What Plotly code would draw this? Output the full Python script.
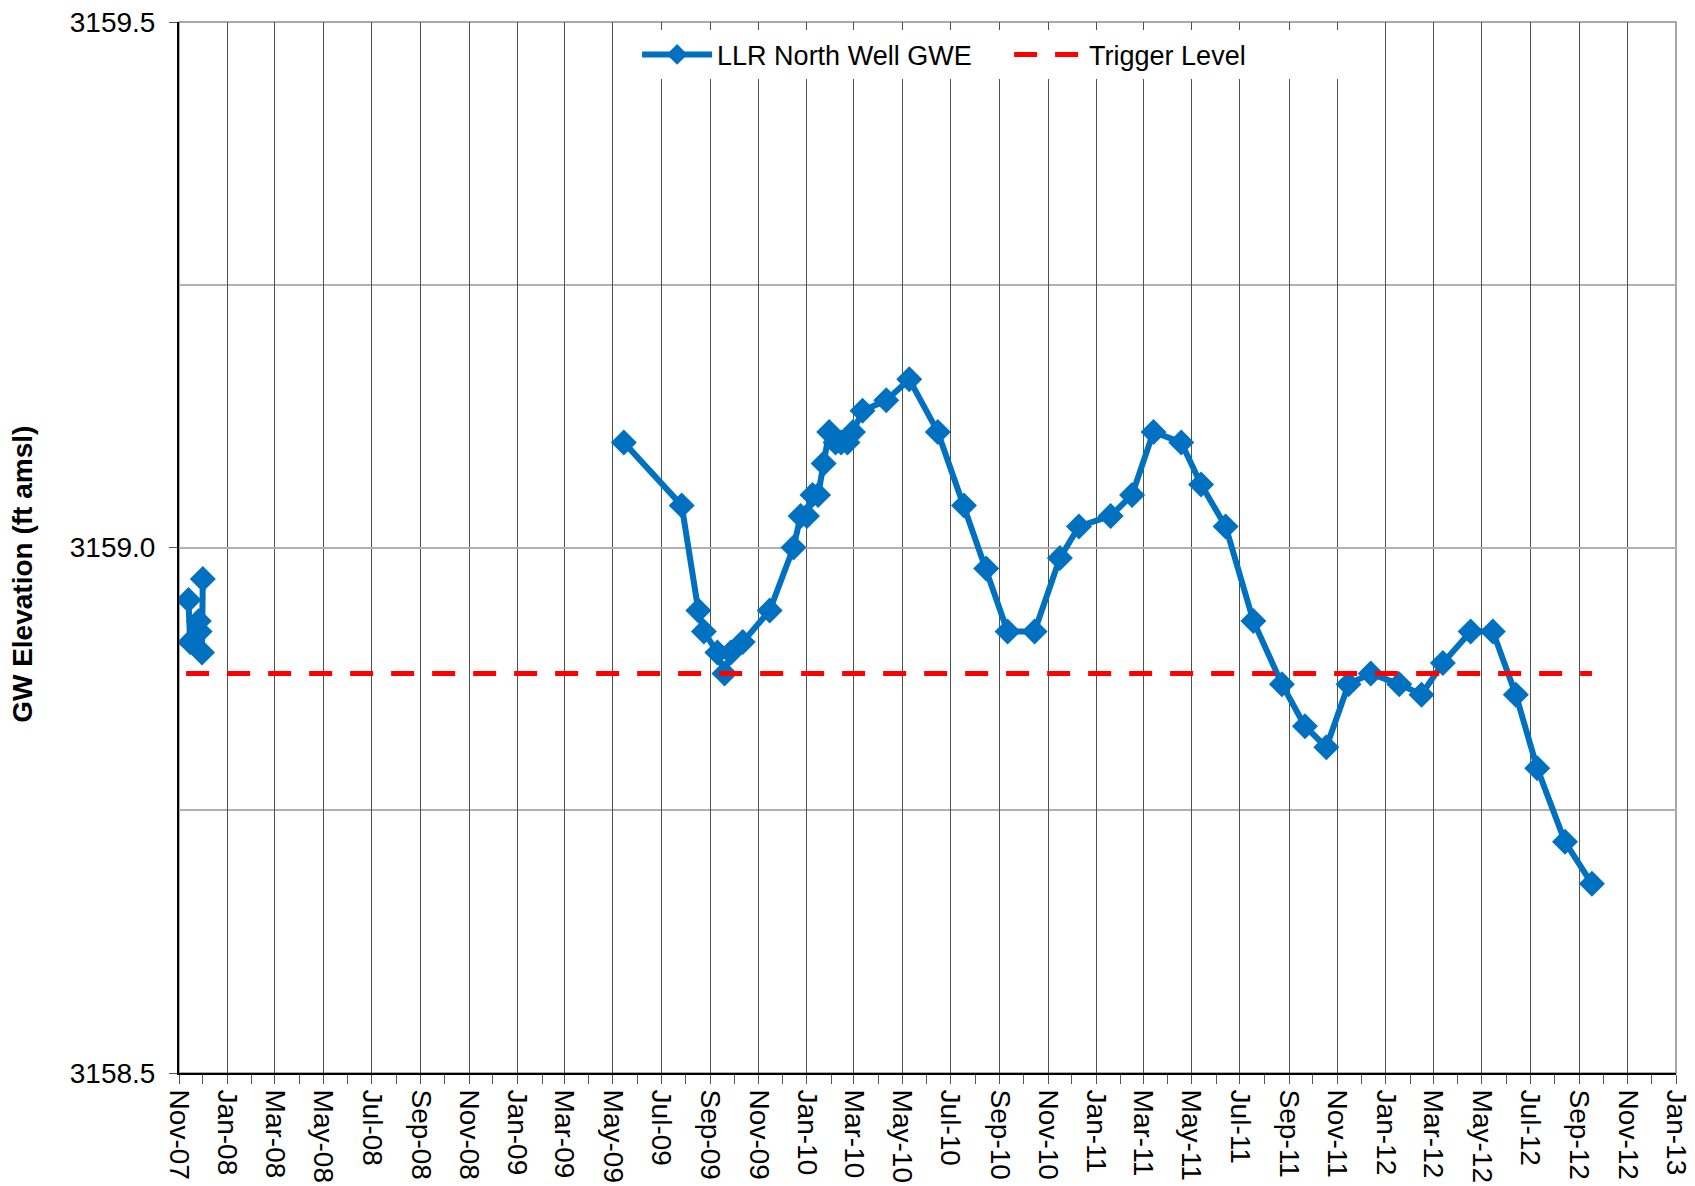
import plotly.graph_objects as go

# ---- data ----
gwe_dates = [
    "2007-11-13", "2007-11-15", "2007-11-26", "2007-11-27", "2007-11-30", "2007-12-01",
    None,
    "2009-05-15", "2009-07-27", "2009-08-17", "2009-08-24", "2009-09-10", "2009-09-19",
    "2009-09-27", "2009-10-12", "2009-11-15", "2009-12-15", "2009-12-24", "2010-01-01",
    "2010-01-08", "2010-01-15", "2010-01-22", "2010-01-29", "2010-02-06", "2010-02-13",
    "2010-02-21", "2010-02-28", "2010-03-12", "2010-04-11", "2010-05-10", "2010-06-15",
    "2010-07-18", "2010-08-15", "2010-09-11", "2010-10-15", "2010-11-16", "2010-12-10",
    "2011-01-19", "2011-02-15", "2011-03-14", "2011-04-18", "2011-05-13", "2011-06-13",
    "2011-07-18", "2011-08-23", "2011-09-21", "2011-10-18", "2011-11-15", "2011-12-13",
    "2012-01-18", "2012-02-15", "2012-03-13", "2012-04-17", "2012-05-15", "2012-06-13",
    "2012-07-10", "2012-08-14", "2012-09-17",
]
gwe_values = [
    3158.95, 3158.91, 3158.93, 3158.92, 3158.90, 3158.97,
    None,
    3159.10, 3159.04, 3158.94, 3158.92, 3158.90, 3158.88,
    3158.90, 3158.91, 3158.94, 3159.00, 3159.03, 3159.03,
    3159.05, 3159.05, 3159.08, 3159.11, 3159.10, 3159.10,
    3159.10, 3159.11, 3159.13, 3159.14, 3159.16, 3159.11,
    3159.04, 3158.98, 3158.92, 3158.92, 3158.99, 3159.02,
    3159.03, 3159.05, 3159.11, 3159.10, 3159.06, 3159.02,
    3158.93, 3158.87, 3158.83, 3158.81, 3158.87, 3158.88,
    3158.87, 3158.86, 3158.89, 3158.92, 3158.92, 3158.86,
    3158.79, 3158.72, 3158.68,
]
trigger_dates = ["2007-11-10", "2012-09-17"]
trigger_values = [3158.88, 3158.88]

x_range = ["2007-11-01", "2013-01-01"]
y_range = [3158.5, 3159.5]
y_title = "GW Elevation (ft amsl)"

FONT = "Liberation Sans, Arial, sans-serif"

fig = go.Figure()
fig.add_trace(go.Scatter(
    x=gwe_dates, y=gwe_values, name="LLR North Well GWE",
    mode="lines+markers", connectgaps=False,
    line=dict(color="#0070C0", width=6),
    marker=dict(symbol="diamond", size=20, color="#0070C0"),
))
fig.add_trace(go.Scatter(
    x=trigger_dates, y=trigger_values, name="Trigger Level",
    mode="lines",
    line=dict(color="#FF0000", width=5, dash="23px,18px"),
))

# gray frame on top/right
fig.add_shape(type="rect", xref="paper", yref="paper", x0=0, y0=0, x1=1, y1=1,
              line=dict(color="#8c8c8c", width=1.5), layer="below")

# y-axis title as annotation (placed like the reference)
fig.add_annotation(
    text="<b>" + y_title + "</b>", textangle=-90,
    xref="paper", yref="paper", x=-0.1042, y=0.474,
    xanchor="center", yanchor="middle", showarrow=False,
    font=dict(size=28, family=FONT, color="black"),
)

fig.update_layout(
    width=1695, height=1186,
    margin=dict(l=171, r=27, t=14, b=121, autoexpand=False),
    plot_bgcolor="white", paper_bgcolor="white",
    font=dict(family=FONT, color="black", size=28),
    showlegend=True,
    legend=dict(
        orientation="h", x=0.306, xanchor="left", y=0.992, yanchor="top",
        bgcolor="white", font=dict(size=27, family=FONT),
        itemwidth=70, entrywidth=287, tracegroupgap=0,
    ),
    xaxis=dict(
        type="date", range=x_range, automargin=False,
        tick0="2007-11-01", dtick="M2", tickformat="%b-%y", tickangle=90,
        showgrid=True, gridcolor="#505050", gridwidth=1,
        ticks="outside", ticklen=9, tickcolor="#555555",
        minor=dict(dtick="M1", ticks="outside", ticklen=9, tickcolor="#555555", showgrid=False),
        showline=True, linecolor="black", linewidth=2,
        tickfont=dict(size=28, family=FONT),
        ticklabeloverflow="allow",
        zeroline=False,
    ),
    yaxis=dict(
        range=y_range, dtick=0.5, tickformat=".1f", automargin=False,
        showgrid=True, gridcolor="#b0b0b0", gridwidth=1.5,
        minor=dict(dtick=0.25, showgrid=True, gridcolor="#b0b0b0", gridwidth=1.5, ticks=""),
        ticks="outside", ticklen=8, tickcolor="#555555",
        ticklabelstandoff=8, ticklabeloverflow="allow",
        showline=True, linecolor="black", linewidth=2,
        tickfont=dict(size=28, family=FONT),
        zeroline=False,
    ),
)

fig.write_html("out.html")
